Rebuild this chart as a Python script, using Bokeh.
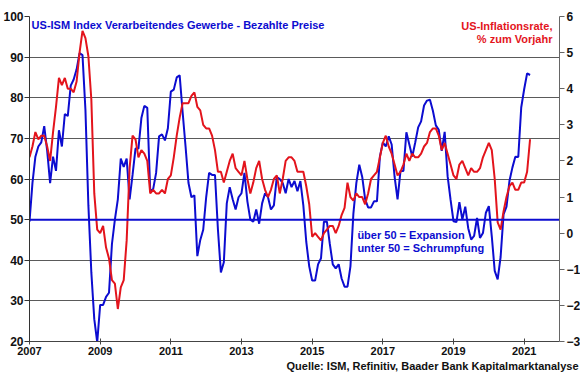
import numpy as np
from bokeh.plotting import figure
from bokeh.models import Range1d, LinearAxis, Span, Label, FixedTicker, Title
from bokeh.embed import file_html
from bokeh.resources import INLINE

# ---------------- data (monthly, Jan 2007 - Mar 2021) ----------------
start_year = 2007
ism_prices_paid = [
    # 2007
    49.5, 59.0, 65.5, 68.0, 69.0, 73.0, 67.0, 59.0, 65.5, 62.0, 72.0, 68.0,
    # 2008
    76.0, 75.5, 83.0, 84.5, 87.0, 91.0, 90.5, 77.0, 53.5, 37.0, 25.5, 19.8,
    # 2009
    29.0, 29.0, 31.0, 32.0, 44.0, 50.0, 55.0, 65.0, 63.0, 65.0, 55.0, 61.0,
    # 2010
    67.5, 67.5, 75.0, 78.0, 77.5, 57.0, 57.5, 61.5, 70.5, 71.0, 69.5, 72.5,
    # 2011
    81.5, 82.0, 85.0, 85.5, 76.5, 68.0, 59.0, 55.5, 56.0, 41.0, 45.0, 47.5,
    # 2012
    55.5, 61.5, 61.0, 61.0, 47.5, 37.0, 39.5, 54.0, 58.0, 55.0, 52.5, 55.5,
    # 2013
    56.5, 61.5, 54.5, 50.0, 49.5, 52.5, 49.0, 54.0, 56.5, 55.5, 52.5, 53.5,
    # 2014
    60.5, 60.0, 59.0, 56.5, 60.0, 58.0, 59.5, 57.0, 59.5, 53.5, 44.5, 38.5,
    # 2015
    35.0, 35.0, 39.0, 40.5, 49.5, 49.5, 44.0, 39.0, 38.0, 39.0, 35.5, 33.5,
    # 2016
    33.5, 38.5, 51.5, 59.0, 63.5, 60.5, 55.0, 53.0, 53.0, 54.5, 54.5, 65.5,
    # 2017
    69.0, 68.0, 70.5, 68.5, 60.5, 55.0, 62.0, 62.0, 71.5, 68.5, 65.5, 69.0,
    # 2018
    72.7, 74.2, 78.1, 79.3, 79.5, 76.8, 73.2, 72.1, 66.9, 71.6, 60.7, 54.9,
    # 2019
    49.6, 49.4, 54.3, 50.0, 53.2, 47.9, 45.1, 46.0, 50.4, 45.5, 46.7, 51.7,
    # 2020
    53.3, 45.9, 37.4, 35.3, 40.8, 51.3, 53.2, 59.5, 62.8, 65.5, 65.4, 77.6,
    # 2021
    82.1, 86.0, 85.6,
]
us_cpi_yoy = [
    # 2007
    2.1, 2.4, 2.8, 2.6, 2.7, 2.7, 2.4, 2.0, 2.8, 3.5, 4.3, 4.1,
    # 2008
    4.3, 4.0, 4.0, 3.9, 4.2, 5.0, 5.6, 5.4, 4.9, 3.7, 1.1, 0.1,
    # 2009
    0.0, 0.2, -0.4, -0.7, -1.3, -1.4, -2.1, -1.5, -1.3, -0.2, 1.8, 2.7,
    # 2010
    2.6, 2.1, 2.3, 2.2, 2.0, 1.1, 1.2, 1.1, 1.1, 1.2, 1.1, 1.5,
    # 2011
    1.6, 2.1, 2.7, 3.2, 3.6, 3.6, 3.6, 3.8, 3.9, 3.5, 3.4, 3.0,
    # 2012
    2.9, 2.9, 2.7, 2.3, 1.7, 1.7, 1.4, 1.7, 2.0, 2.2, 1.8, 1.7,
    # 2013
    1.6, 2.0, 1.5, 1.1, 1.4, 1.8, 2.0, 1.5, 1.2, 1.0, 1.2, 1.5,
    # 2014
    1.6, 1.1, 1.5, 2.0, 2.1, 2.1, 2.0, 1.7, 1.7, 1.7, 1.3, 0.8,
    # 2015
    -0.1, 0.0, -0.1, -0.2, 0.0, 0.1, 0.2, 0.2, 0.0, 0.2, 0.5, 0.7,
    # 2016
    1.4, 1.0, 0.9, 1.1, 1.0, 1.0, 0.8, 1.1, 1.5, 1.6, 1.7, 2.1,
    # 2017
    2.5, 2.7, 2.4, 2.2, 1.9, 1.6, 1.7, 1.9, 2.2, 2.0, 2.2, 2.1,
    # 2018
    2.1, 2.2, 2.4, 2.5, 2.8, 2.9, 2.9, 2.7, 2.3, 2.5, 2.2, 1.9,
    # 2019
    1.6, 1.5, 1.9, 2.0, 1.8, 1.6, 1.8, 1.7, 1.7, 1.8, 2.1, 2.3,
    # 2020
    2.5, 2.3, 1.5, 0.3, 0.1, 0.6, 1.0, 1.3, 1.4, 1.2, 1.2, 1.4,
    # 2021
    1.4, 1.7, 2.6,
]
x_ticks = [2007, 2009, 2011, 2013, 2015, 2017, 2019, 2021]
left_ticks = [20, 30, 40, 50, 60, 70, 80, 90, 100]
right_ticks = [-3, -2, -1, 0, 1, 2, 3, 4, 5, 6]
threshold = 50

t_ism = start_year + np.arange(len(ism_prices_paid)) / 12.0
t_cpi = start_year + np.arange(len(us_cpi_yoy)) / 12.0

BLUE = "#0c0cd0"
RED = "#e3141c"
FONT = "Liberation Sans"

p = figure(frame_width=530, frame_height=325, output_backend="svg",
           toolbar_location=None,
           x_range=Range1d(2007, 2022), y_range=Range1d(20, 100),
           min_border_left=29, min_border_right=21, min_border_top=16,
           min_border_bottom=34)
p.outline_line_color = None
p.background_fill_color = "white"
p.border_fill_color = "white"
p.extra_y_ranges = {"cpi": Range1d(-3, 6)}

# axes
p.xaxis.ticker = FixedTicker(ticks=x_ticks)
p.xaxis.minor_tick_line_color = None
p.xaxis.major_tick_in = 3
p.xaxis.major_tick_out = 3
p.xaxis.major_label_standoff = 2
p.xaxis.axis_line_color = "#444444"
p.xaxis.major_tick_line_color = "#444444"

p.yaxis.ticker = FixedTicker(ticks=left_ticks)
p.yaxis.minor_tick_line_color = None
p.yaxis.major_tick_in = 0
p.yaxis.major_tick_out = 5
p.yaxis.major_label_standoff = 1
p.yaxis.axis_line_color = "#333333"
p.yaxis.major_tick_line_color = "#333333"

raxis = LinearAxis(y_range_name="cpi", ticker=FixedTicker(ticks=right_ticks))
raxis.minor_tick_line_color = None
raxis.major_tick_in = 0
raxis.major_tick_out = 5
raxis.major_label_standoff = 2
raxis.axis_line_color = "#666666"
raxis.major_tick_line_color = "#666666"
p.add_layout(raxis, "right")

for ax in [p.xaxis[0], p.yaxis[0], raxis]:
    ax.major_label_text_font = FONT
    ax.major_label_text_font_style = "bold"
    ax.major_label_text_color = "#111111"
p.xaxis.major_label_text_font_size = "11px"
p.yaxis.major_label_text_font_size = "12px"
raxis.major_label_text_font_size = "12px"

p.xgrid.grid_line_color = None
p.ygrid.ticker = FixedTicker(ticks=left_ticks)
p.ygrid.grid_line_color = "#5a5a5a"
p.ygrid.grid_line_width = 1

# threshold line
span = Span(location=threshold, dimension="width", line_color=BLUE, line_width=2,
            level="glyph")
p.add_layout(span)

p.line(t_ism, ism_prices_paid, line_color=BLUE, line_width=2)
p.line(t_cpi, us_cpi_yoy, line_color=RED, line_width=2, y_range_name="cpi")

def lab(text, x, y, color, align="left", size="11px"):
    p.add_layout(Label(x=x, y=y, text=text,
                       text_color=color, text_font=FONT, text_font_style="bold",
                       text_font_size=size, text_align=align, text_baseline="middle"))

lab("US-ISM Index Verarbeitendes Gewerbe - Bezahlte Preise", 2007.06, 98.0, BLUE)
lab("US-Inflationsrate,", 2021.8, 97.7, RED, align="right")
lab("% zum Vorjahr", 2021.8, 94.5, RED, align="right")
lab("über 50 = Expansion", 2016.28, 46.1, BLUE)
lab("unter 50 = Schrumpfung", 2016.28, 42.9, BLUE)

src = Title(text="Quelle: ISM, Refinitiv, Baader Bank Kapitalmarktanalyse",
            align="right", offset=-19, standoff=0, text_font=FONT,
            text_font_style="bold", text_font_size="11px", text_color="#111111")
p.add_layout(src, "below")

open("out.html", "w").write(file_html(p, INLINE))
